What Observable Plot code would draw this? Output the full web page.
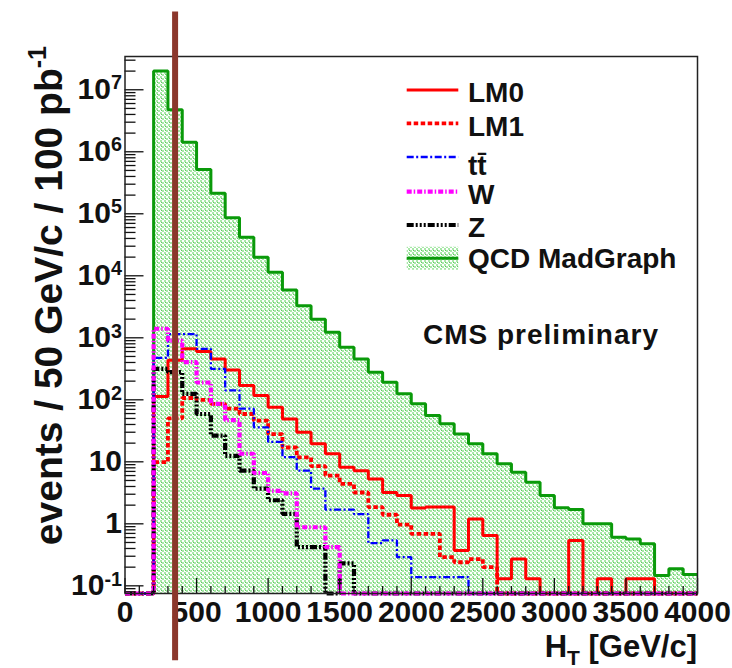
<!DOCTYPE html>
<html><head><meta charset="utf-8">
<script src="https://cdn.jsdelivr.net/npm/d3@7"></script>
<script src="https://cdn.jsdelivr.net/npm/@observablehq/plot@0.6"></script>
<style>html,body{margin:0;padding:0;background:#fff}svg{display:block}</style>
</head><body><div id="chart"></div>
<script>
// bin lower edges (GeV/c), each bin 100 wide
const binLow = [0,100,200,300,400,500,600,700,800,900,1000,1100,1200,1300,1400,1500,1600,1700,1800,1900,
  2000,2100,2200,2300,2400,2500,2600,2700,2800,2900,3000,3100,3200,3300,3400,3500,3600,3700,3800,3900];
const xEnd = 4000;

const QCD = [0,0,2.0e7,4.75e6,1.43e6,5.2e5,2.15e5,8.6e4,4.2e4,2.0e4,1.14e4,5.9e3,3.3e3,2.0e3,1.23e3,705,457,279,192,125,
  86,56,41,28,19.5,13.5,9.3,6.8,4.7,2.86,1.81,1.70,1.0,1.0,0.61,0.57,0.475,0.147,0.188,0.152];
const LM0 = [0,0,113,436,665,600,457,302,170,117,76,49,30,19.5,13.5,8.2,7.2,5.3,3.2,2.86,
  1.8,1.86,1.86,0.37,1.2,0.65,0.13,0.27,0.13,0,0,0.54,0,0.13,0,0.13,0.13,0,0,0];
const LM1 = [0,0,9.9,50,107,100,86,72,59,46,28,17,11.8,8.5,6.0,4.4,3.2,1.86,1.4,0.97,
  0.69,0.69,0.29,0.24,0.27,0.2,0,0,0,0,0,0,0,0,0,0,0,0,0,0];
const TTBAR = [0,0,475,1150,1150,665,316,142,72,36,21,11.9,7.2,3.7,1.7,1.7,1.43,0.49,0.54,0.29,
  0.138,0.138,0.138,0.138,0,0,0,0,0,0,0,0,0,0,0,0,0,0,0,0];
const W = [0,0,1400,900,405,190,86,47,13.5,6.6,3.4,3.1,0.88,0.88,0.42,0,0,0,0,0,
  0,0,0,0,0,0,0,0,0,0,0,0,0,0,0,0,0,0,0,0];
const Z = [0,0,316,279,125,59,26.5,12.5,7.2,3.7,2.4,1.45,0.42,0.42,0,0.23,0,0,0,0,
  0,0,0,0,0,0,0,0,0,0,0,0,0,0,0,0,0,0,0,0];

const cutHT = 350;
const xTickLabels = [0,500,1000,1500,2000,2500,3000,3500,4000];
const yTickValues = [0.1,1,10,100,1e3,1e4,1e5,1e6,1e7];
const yTickLabels = ["10^-1","1","10","10^2","10^3","10^4","10^5","10^6","10^7"];
const legendNames = ["LM0","LM1","tt\u0304","W","Z","QCD MadGraph"];

const yMin = 0.0752, yMax = 3.44e7;

function steps(vals) {
  const pts = binLow.map((x, i) => ({x, y: vals[i] > 0 ? vals[i] : yMin}));
  pts.push({x: xEnd, y: pts[pts.length - 1].y});
  return pts;
}

const xMinor = binLow.filter(v => v % 500 !== 0);
const yMinor = [];
for (let e = -2; e <= 7; e++) for (let m = 2; m <= 9; m++) {
  const v = m * Math.pow(10, e);
  if (v > yMin && v < yMax) yMinor.push(v);
}
const labelOf = new Map(yTickValues.map((v, i) => [v, yTickLabels[i]]));

const font = "'Liberation Sans', Arial, Helvetica, sans-serif";
const series = [
  {vals: LM0, stroke: "#ff0000", w: 3, dash: "none"},
  {vals: LM1, stroke: "#ff0000", w: 3.8, dash: "4.5,2.5"},
  {vals: TTBAR, stroke: "#0000ff", w: 2.3, dash: "7,2.5,2,2.5"},
  {vals: Z, stroke: "#000000", w: 4.2, dash: "7,2,2,2,2,2,2,2"},
  {vals: W, stroke: "#ff00ff", w: 4.2, dash: "5,2,1.5,2"}
];
const qcdGreen = "#0a9a0a";

const svg = Plot.plot({
  width: 732, height: 668,
  marginLeft: 124.5, marginRight: 35, marginTop: 56, marginBottom: 75,
  style: {fontFamily: font, background: "white", overflow: "visible"},
  x: {domain: [0, xEnd], axis: null},
  y: {type: "log", domain: [yMin, yMax], axis: null},
  marks: [
    Plot.areaY(steps(QCD), {x: "x", y1: yMin, y2: "y", curve: "step-after", fill: "url(#qcdPattern)"}),
    Plot.line(steps(QCD), {x: "x", y: "y", curve: "step-after", stroke: qcdGreen, strokeWidth: 3,
      strokeLinecap: "butt", strokeLinejoin: "miter"}),
    ...series.map(s => Plot.line(steps(s.vals), {x: "x", y: "y", curve: "step-after",
      stroke: s.stroke, strokeWidth: s.w, strokeDasharray: s.dash,
      strokeLinecap: "butt", strokeLinejoin: "miter"})),
    Plot.axisX({ticks: xTickLabels, tickSize: -15, tickFormat: () => null, label: null, stroke: "#111", strokeWidth: 1.3}),
    Plot.axisX({ticks: xMinor, tickSize: -7, tickFormat: () => null, label: null, stroke: "#111", strokeWidth: 1.3}),
    Plot.axisX({ticks: xTickLabels, tickSize: 0, tickPadding: 7, tickFormat: d => String(d), label: null,
      fontSize: 30, fontWeight: "bold", fill: "#111"}),
    Plot.axisY({ticks: yTickValues, tickSize: -19, tickFormat: () => null, label: null, stroke: "#111", strokeWidth: 1.3}),
    Plot.axisY({ticks: yMinor, tickSize: -11, tickFormat: () => null, label: null, stroke: "#111", strokeWidth: 1.3}),
    Plot.axisY({ticks: yTickValues, tickSize: 0, tickPadding: 3, tickFormat: d => labelOf.get(d), label: null,
      fontSize: 30, fontWeight: "bold", fill: "#111"}),
    Plot.frame({stroke: "#222", strokeWidth: 1.5}),
    Plot.ruleX([cutHT], {y1: 0.0062, y2: 1.8e8, stroke: "#8b372c", strokeWidth: 6})
  ]
});

const S = d3.select(svg);
// enforce dash patterns / butt caps on the histogram outlines (line groups: QCD first, then the series)
S.selectAll('g[aria-label="line"]').each(function(_, i) {
  const p = d3.select(this).selectAll("path").attr("stroke-linecap", "butt").attr("stroke-linejoin", "miter");
  if (i > 0 && series[i - 1]) p.attr("stroke-dasharray", series[i - 1].dash);
});
// fill pattern for QCD
const defs = S.insert("defs", ":first-child");
const pat = defs.append("pattern").attr("id", "qcdPattern").attr("patternUnits", "userSpaceOnUse")
  .attr("width", 4).attr("height", 4);
pat.append("rect").attr("width", 4).attr("height", 4).attr("fill", "#ffffff");
pat.append("rect").attr("x", 0).attr("y", 0).attr("width", 2).attr("height", 2).attr("fill", "#a8e8a8");
pat.append("rect").attr("x", 2).attr("y", 2).attr("width", 2).attr("height", 2).attr("fill", "#a8e8a8");
pat.append("rect").attr("x", 1).attr("y", 2).attr("width", 1).attr("height", 1).attr("fill", "#62c862");

// superscripts on y tick labels
S.selectAll('g[aria-label="y-axis tick label"] text').each(function() {
  const t = this.textContent;
  if (t.includes("^")) {
    const [b, e] = t.split("^");
    const el = d3.select(this);
    el.text(b);
    el.append("tspan").attr("dy", "-0.5em").attr("font-size", "0.66em").text(e);
  }
});

// axis titles
const xt = S.append("text").attr("x", 697).attr("y", 657).attr("text-anchor", "end")
  .attr("font-family", font).attr("font-size", 31).attr("font-weight", "bold").attr("fill", "#111");
xt.append("tspan").text("H");
xt.append("tspan").attr("dy", 8).attr("font-size", 21).text("T");
xt.append("tspan").attr("dy", -8).text(" [GeV/c]");

const yt = S.append("text").attr("transform", "translate(62,46) rotate(-90)").attr("text-anchor", "end")
  .attr("font-family", font).attr("font-size", 39).attr("font-weight", "bold").attr("fill", "#111");
yt.append("tspan").text("events / 50 GeV/c / 100 pb");
yt.append("tspan").attr("dy", -16).attr("font-size", 25).text("-1");

// legend
const lx1 = 406.7, lx2 = 458.3, tx = 468;
const rowsY = [90, 123.3, 157, 191.7, 225, 258.3];
const baseOff = [11.5, 13, 18, 12, 12, 10];
const lg = S.append("g").attr("font-family", font).attr("font-size", 28).attr("font-weight", "bold")
  .attr("fill", "#111").attr("text-anchor", "start");
const legendStyles = [series[0], series[1], series[2], series[4], series[3]];
legendStyles.forEach((s, i) => {
  lg.append("line").attr("x1", lx1).attr("x2", lx2).attr("y1", rowsY[i]).attr("y2", rowsY[i])
    .attr("stroke", s.stroke).attr("stroke-width", s.w).attr("stroke-dasharray", s.dash);
});
lg.append("rect").attr("x", lx1).attr("y", rowsY[5] - 11.5).attr("width", lx2 - lx1).attr("height", 23)
  .attr("fill", "url(#qcdPattern)");
lg.append("line").attr("x1", lx1).attr("x2", lx2).attr("y1", rowsY[5]).attr("y2", rowsY[5])
  .attr("stroke", qcdGreen).attr("stroke-width", 3);
legendNames.forEach((n, i) => {
  lg.append("text").attr("x", tx).attr("y", rowsY[i] + baseOff[i]).text(n);
});
S.append("text").attr("x", 423).attr("y", 344).attr("font-family", font).attr("font-size", 28)
  .attr("font-weight", "bold").attr("fill", "#111").attr("text-anchor", "start")
  .attr("letter-spacing", 1).text("CMS preliminary");

document.getElementById("chart").appendChild(svg);
</script>
</body></html>
